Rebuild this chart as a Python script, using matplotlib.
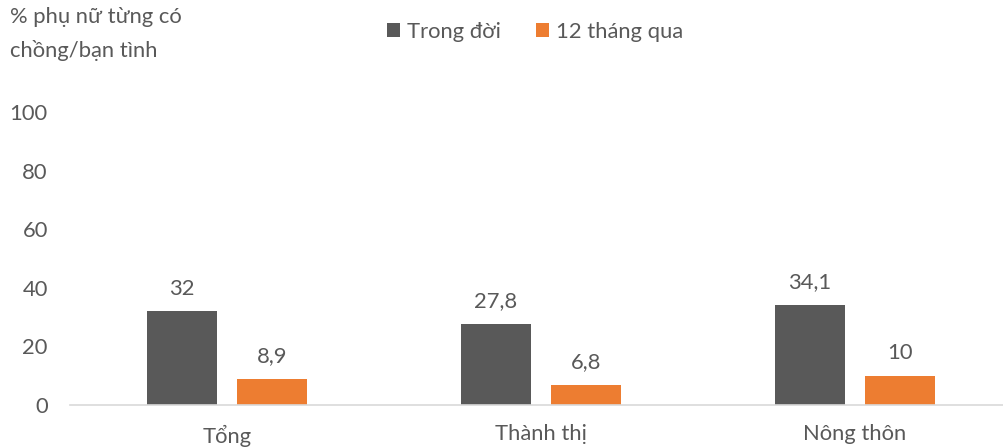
import numpy as np
import matplotlib.pyplot as plt

plt.rcParams['font.family'] = ['Lato', 'DejaVu Sans']

categories = ['Tổng', 'Thành thị', 'Nông thôn']
trong_doi = [32, 27.8, 34.1]
thang_qua = [8.9, 6.8, 10]
labels_doi = ['32', '27,8', '34,1']
labels_qua = ['8,9', '6,8', '10']

dark = '#595959'
orange = '#ED7D31'
txt = '#595959'
fs = 15.8

fig = plt.figure(figsize=(10.04, 4.48), dpi=100)
ax = fig.add_axes([70 / 1004, 43 / 448, 934 / 1004, 293 / 448])

x = np.arange(len(categories))
w = 0.223
off = 0.143
b1 = ax.bar(x - off, trong_doi, w, color=dark, label='Trong đời')
b2 = ax.bar(x + off, thang_qua, w, color=orange, label='12 tháng qua')

for rect, s in zip(b1, labels_doi):
    ax.annotate(s, (rect.get_x() + rect.get_width() / 2, rect.get_height()),
                xytext=(0, 9), textcoords='offset points', ha='center', va='bottom',
                fontsize=fs, color=txt)
for rect, s in zip(b2, labels_qua):
    ax.annotate(s, (rect.get_x() + rect.get_width() / 2, rect.get_height()),
                xytext=(0, 9), textcoords='offset points', ha='center', va='bottom',
                fontsize=fs, color=txt)

ax.set_ylim(0, 100)
ax.set_xlim(-0.5, 2.475)
ax.set_yticks([0, 20, 40, 60, 80, 100])
ax.set_xticks(x)
ax.set_xticklabels(categories)
ax.tick_params(length=0, labelsize=fs, colors=txt)
ax.tick_params(axis='y', pad=16)
ax.tick_params(axis='x', pad=14)
for sp in ['top', 'right', 'left']:
    ax.spines[sp].set_visible(False)
ax.spines['bottom'].set_color('#D9D9D9')
ax.spines['bottom'].set_linewidth(1.2)

fig.text(10 / 1004, 1 - 7 / 448, '% phụ nữ từng có\nchồng/bạn tình', ha='left', va='top',
         fontsize=fs, color=txt, linespacing=1.75)

fig.legend(loc='center', bbox_to_anchor=(535 / 1004, 1 - 32 / 448), ncol=2, frameon=False,
           fontsize=fs, labelcolor=txt, handlelength=0.6, handleheight=0.6,
           handletextpad=0.3, columnspacing=1.6)

fig.savefig('out.png', dpi=100)
